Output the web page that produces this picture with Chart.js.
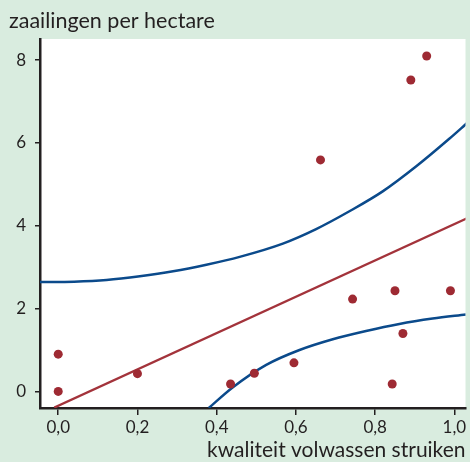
<!DOCTYPE html>
<html>
<head>
<meta charset="utf-8">
<script src="https://cdn.jsdelivr.net/npm/chart.js@4/dist/chart.umd.min.js"></script>
<style>
  html, body { margin: 0; padding: 0; background: #d9ecdf; }
  #wrap { width: 470px; height: 462px; }
</style>
</head>
<body>
<div id="wrap"><canvas id="c" width="470" height="462"></canvas></div>
<script>
// Observed data: seedlings per hectare vs. quality of adult shrubs
const obsX = [0.0, 0.0, 0.2, 0.435, 0.495, 0.595, 0.662, 0.743, 0.85, 0.843, 0.87, 0.89, 0.93, 0.99];
const obsY = [0.9, 0.0, 0.43, 0.18, 0.44, 0.69, 5.59, 2.23, 2.43, 0.18, 1.40, 7.52, 8.10, 2.43];

// Fitted regression line (read at its two ends)
const fitX = [-0.01, 1.032];
const fitY = [-0.39, 4.18];

// Upper band
const upperX = [-0.046, 0.04, 0.122, 0.206, 0.29, 0.374, 0.458, 0.567, 0.651, 0.735, 0.819, 0.903, 0.987, 1.032];
const upperY = [2.64, 2.65, 2.69, 2.78, 2.90, 3.06, 3.25, 3.57, 3.92, 4.35, 4.83, 5.43, 6.10, 6.48];

// Lower band
const lowerX = [0.38, 0.441, 0.525, 0.609, 0.693, 0.777, 0.861, 0.945, 1.029];
const lowerY = [-0.40, 0.10, 0.64, 1.00, 1.26, 1.46, 1.63, 1.76, 1.86];

const xTickValues = [0, 0.2, 0.4, 0.6, 0.8, 1.0];
const xTickLabels = ["0,0", "0,2", "0,4", "0,6", "0,8", "1,0"];
const yTickValues = [0, 2, 4, 6, 8];
const yTickLabels = ["0", "2", "4", "6", "8"];

const yTitle = "zaailingen per hectare";
const xTitle = "kwaliteit volwassen struiken";

const toPts = (xs, ys) => xs.map((x, i) => ({ x: x, y: ys[i] }));

const bgPlugin = {
  id: 'bg',
  beforeDraw(chart) {
    const { ctx, chartArea: a } = chart;
    ctx.save();
    ctx.fillStyle = '#d9ecdf';
    ctx.fillRect(0, 0, chart.width, chart.height);
    ctx.fillStyle = '#ffffff';
    ctx.fillRect(a.left, a.top, a.right - a.left, a.bottom - a.top);
    ctx.restore();
  }
};

const FONT = "Lato, 'Open Sans', sans-serif";
const TXT = '#231f20';

new Chart(document.getElementById('c'), {
  type: 'scatter',
  data: {
    datasets: [
      {
        label: 'waarnemingen',
        data: toPts(obsX, obsY),
        backgroundColor: '#9e2a33',
        borderColor: '#9e2a33',
        pointRadius: 4.5,
        pointBorderWidth: 0,
        showLine: false,
        order: 0
      },
      {
        label: 'regressie',
        data: toPts(fitX, fitY),
        showLine: true,
        borderColor: '#a3333b',
        borderWidth: 2.3,
        pointRadius: 0,
        order: 1
      },
      {
        label: 'boven',
        data: toPts(upperX, upperY),
        showLine: true,
        borderColor: '#0b4a8b',
        borderWidth: 2.5,
        pointRadius: 0,
        cubicInterpolationMode: 'monotone',
        order: 2
      },
      {
        label: 'onder',
        data: toPts(lowerX, lowerY),
        showLine: true,
        borderColor: '#0b4a8b',
        borderWidth: 2.5,
        pointRadius: 0,
        cubicInterpolationMode: 'monotone',
        order: 3
      }
    ]
  },
  options: {
    responsive: false,
    animation: false,
    devicePixelRatio: 1,
    layout: { padding: { left: 9, right: 3, top: 0, bottom: 0 } },
    plugins: {
      legend: { display: false },
      tooltip: { enabled: false },
      title: {
        display: true,
        text: yTitle,
        align: 'start',
        color: TXT,
        font: { family: FONT, size: 21.5, weight: 'normal', lineHeight: 1.2 },
        padding: { top: 8, bottom: 5.2 }
      }
    },
    scales: {
      x: {
        type: 'linear',
        min: -0.046,
        max: 1.028,
        afterBuildTicks(scale) { scale.ticks = xTickValues.map(v => ({ value: v })); },
        afterFit(scale) { scale.height = 54; scale.paddingLeft = 0; scale.paddingRight = 0; },
        ticks: {
          autoSkip: false,
          maxRotation: 0,
          padding: 2,
          color: TXT,
          font: { family: FONT, size: 17 },
          callback: (v) => { const i = xTickValues.findIndex(t => Math.abs(t - v) < 1e-9); return i >= 0 ? xTickLabels[i] : ''; }
        },
        grid: { display: true, drawOnChartArea: false, drawTicks: true, tickLength: 7, color: '#231f20', lineWidth: 1.5 },
        border: { display: true, color: '#231f20', width: 2.5 },
        title: {
          display: true,
          text: xTitle,
          align: 'end',
          color: TXT,
          font: { family: FONT, size: 21, lineHeight: 1.2 },
          padding: { top: 0, bottom: -1 }
        }
      },
      y: {
        type: 'linear',
        min: -0.40,
        max: 8.51,
        afterBuildTicks(scale) { scale.ticks = yTickValues.map(v => ({ value: v })); },
        afterFit(scale) { scale.width = 31; scale.paddingTop = 0; scale.paddingBottom = 0; },
        ticks: {
          autoSkip: false,
          padding: 9,
          color: TXT,
          font: { family: FONT, size: 17 },
          callback: (v) => { const i = yTickValues.findIndex(t => Math.abs(t - v) < 1e-9); return i >= 0 ? yTickLabels[i] : ''; }
        },
        grid: { display: true, drawOnChartArea: false, drawTicks: true, tickLength: 5, color: '#231f20', lineWidth: 1.5 },
        border: { display: true, color: '#231f20', width: 2.5 }
      }
    }
  },
  plugins: [bgPlugin]
});
</script>
</body>
</html>
